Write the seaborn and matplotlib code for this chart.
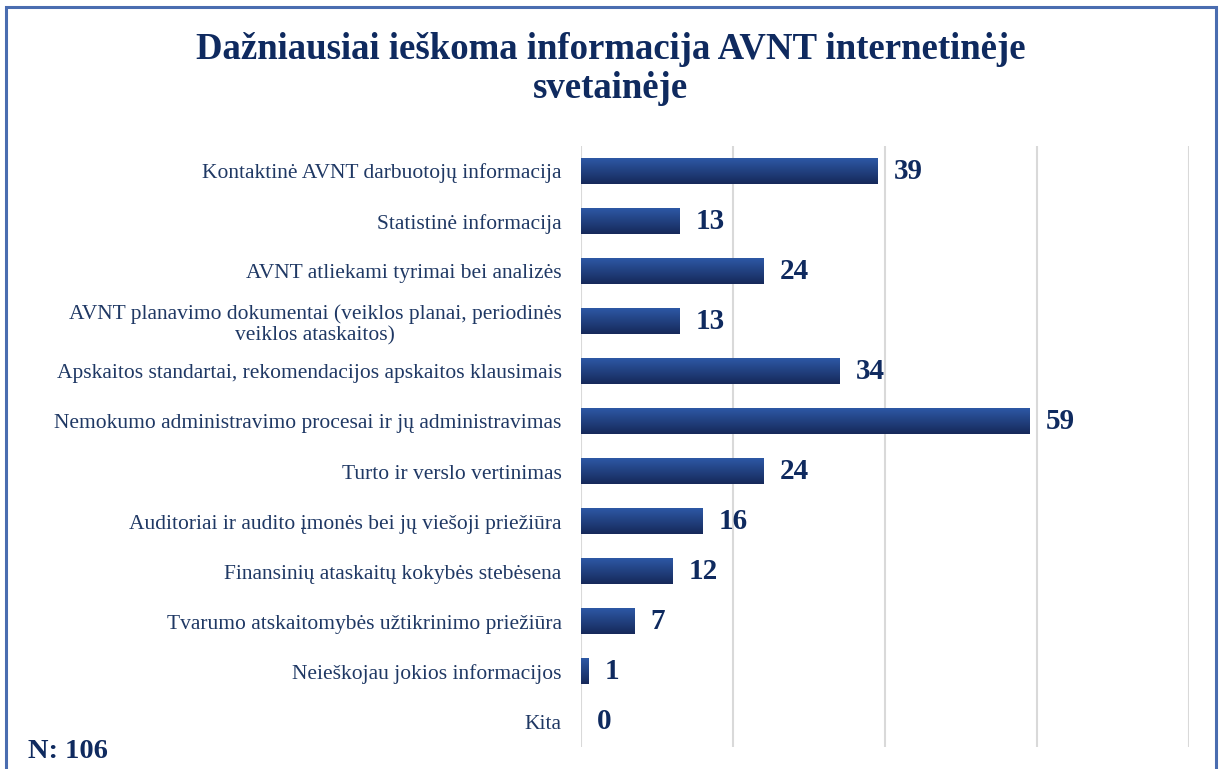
import matplotlib.pyplot as plt
import matplotlib.patches as mpatches
import matplotlib.transforms as mtrans
from matplotlib.colors import to_rgb
import numpy as np
import pandas as pd
import seaborn as sns

sns.set_style("white")
plt.rcParams['font.family'] = ['Liberation Serif', 'DejaVu Serif']

# data
categories = [
    "Kontaktinė AVNT darbuotojų informacija",
    "Statistinė informacija",
    "AVNT atliekami tyrimai bei analizės",
    "AVNT planavimo dokumentai (veiklos planai, periodinės\nveiklos ataskaitos)",
    "Apskaitos standartai, rekomendacijos apskaitos klausimais",
    "Nemokumo administravimo procesai ir jų administravimas",
    "Turto ir verslo vertinimas",
    "Auditoriai ir audito įmonės bei jų viešoji priežiūra",
    "Finansinių ataskaitų kokybės stebėsena",
    "Tvarumo atskaitomybės užtikrinimo priežiūra",
    "Neieškojau jokios informacijos",
    "Kita",
]
counts = [39, 13, 24, 13, 34, 59, 24, 16, 12, 7, 1, 0]
title = "Dažniausiai ieškoma informacija AVNT internetinėje\nsvetainėje"
n_note = "N: 106"

navy = "#0f2a5f"
label_col = "#1f3864"
top_col = "#2d58a5"
bot_col = "#16295a"

df = pd.DataFrame({"cat": categories, "n": counts})

fig = plt.figure(figsize=(12.21, 7.69), dpi=100)
ax = fig.add_axes([581 / 1221, 22 / 769, 608 / 1221, 601 / 769])

sns.barplot(data=df, x="n", y="cat", orient="h", color=bot_col,
            width=0.5, ax=ax, edgecolor="none")

# gradient fill on each bar
grad = np.linspace(0, 1, 64)[:, None, None]
c_top = np.array(to_rgb(top_col))
c_bot = np.array(to_rgb(bot_col))
img = c_top * (1 - grad) + c_bot * grad
for p in ax.patches:
    x0, y0 = p.get_x(), p.get_y()
    w, h = p.get_width(), p.get_height()
    if w <= 0:
        continue
    ax.imshow(img, extent=(x0, x0 + w, y0 + h, y0), origin="upper",
              aspect="auto", zorder=3, interpolation="bilinear")

ax.set_xlim(0, 80)
ax.set_ylim(11.5, -0.5)
ax.set_xticks([0, 20, 40, 60, 80])
ax.set_xticklabels([])
ax.grid(axis="x", color="#d9d9d9", linewidth=1.5)
ax.set_axisbelow(True)
for s in ax.spines.values():
    s.set_visible(False)
ax.set_xlabel("")
ax.set_ylabel("")
ax.tick_params(axis="both", length=0)
ax.tick_params(axis="y", pad=14, labelsize=15.5, labelcolor=label_col)
for t in ax.get_yticklabels():
    t.set_multialignment("center")
    t.set_linespacing(1.15)

# value labels, shifted right by a fixed gap
offset = mtrans.ScaledTranslation(16 / 100, 0, fig.dpi_scale_trans)
for i, v in enumerate(counts):
    ax.text(v, i, f"{v}", transform=ax.transData + offset, ha="left",
            va="center", fontsize=21, fontweight="bold", color=navy, zorder=4)

fig.text(611 / 1221, 1 - 69 / 769, title, ha="center", va="center",
         fontsize=26.5, fontweight="bold", color=navy, linespacing=1.15)
fig.text(28 / 1221, 1 - 752 / 769, n_note, ha="left", va="center",
         fontsize=20.5, fontweight="bold", color=navy)

# frame around the chart
fig.patches.append(mpatches.Rectangle((6 / 1221, -0.05), 1210 / 1221, 1.05 - 7 / 769,
                                      transform=fig.transFigure, fill=False,
                                      edgecolor="#4a6db0", linewidth=2.2))

fig.savefig("out.png", dpi=100)
